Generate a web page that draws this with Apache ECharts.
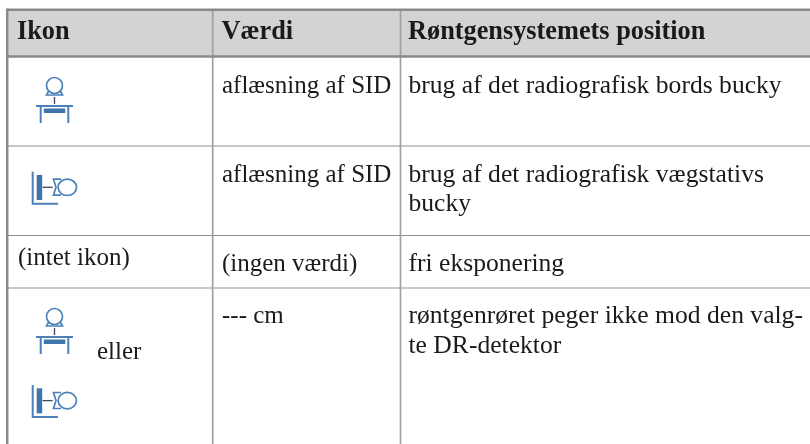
<!DOCTYPE html>
<html><head><meta charset="utf-8">
<style>html,body{margin:0;padding:0;background:#fff}#c{width:810px;height:444px}</style>
<script src="https://cdn.jsdelivr.net/npm/echarts@6/dist/echarts.min.js"></script>
</head><body><div id="c"></div>
<script>
const headers = ["Ikon", "Værdi", "Røntgensystemets position"];
const iconCol = [null, null, "(intet ikon)", "eller"];
const valueCol = ["aflæsning af SID", "aflæsning af SID", "(ingen værdi)", "--- cm"];
const positionCol = [
  ["brug af det radiografisk bords bucky"],
  ["brug af det radiografisk vægstativs", "bucky"],
  ["fri eksponering"],
  ["røntgenrøret peger ikke mod den valg-", "te DR-detektor"]
];

const FONT = '"Liberation Serif", serif';
const SIZE = 25.6, VSIZE = 25, BSIZE = 26.3;
const colX = [7.2, 212.7, 400.5, 810];
const rowY = [9.7, 56.4, 146, 235.5, 288, 444];
const GRID = '#8f8f8f', VGRID = '#a0a0a0', BORDER = '#8a8a8a', BLUE = '#4b80b8', FILL = '#3f74ad', TXT = '#1a1a1a';

function line(x1, y1, x2, y2, stroke, w) {
  return {type:'line', shape:{x1,y1,x2,y2}, style:{stroke, lineWidth:w}, silent:true};
}
function txt(x, base, text, size, bold) {
  return {type:'text', x, y: base - size*0.26, style:{text, x:0, y:0, fill:TXT, font:(bold?'bold ':'')+size+'px '+FONT, textVerticalAlign:'middle'}};
}
function tableIcon(cx, top) {
  const s = {stroke:BLUE, fill:'none', lineWidth:1.7};
  return [
    {type:'circle', shape:{cx, cy:top+8.5, r:8}, style:s},
    {type:'polyline', shape:{points:[[cx-5.5,top+13.5],[cx-8,top+18],[cx+8,top+18],[cx+5.5,top+13.5]]}, style:s},
    {type:'line', shape:{x1:cx, y1:top+20, x2:cx, y2:top+27}, style:{stroke:'#3b4a5c', lineWidth:1.3}},
    {type:'line', shape:{x1:cx-18.5, y1:top+29, x2:cx+18.5, y2:top+29}, style:{stroke:BLUE, lineWidth:2}},
    {type:'line', shape:{x1:cx-13.8, y1:top+29, x2:cx-13.8, y2:top+46}, style:{stroke:BLUE, lineWidth:2}},
    {type:'line', shape:{x1:cx+13.8, y1:top+29, x2:cx+13.8, y2:top+46}, style:{stroke:BLUE, lineWidth:2}},
    {type:'rect', shape:{x:cx-10.7, y:top+31.5, width:21.5, height:4.5}, style:{fill:FILL}}
  ];
}
function wallIcon(left, top) {
  const s = {stroke:BLUE, fill:'none', lineWidth:1.7};
  return [
    {type:'polyline', shape:{points:[[left+.7,top],[left+.7,top+32],[left+26,top+32]]}, style:{stroke:BLUE, fill:'none', lineWidth:2}},
    {type:'rect', shape:{x:left+4.7, y:top+3.3, width:5.5, height:25}, style:{fill:FILL}},
    {type:'line', shape:{x1:left+10.7, y1:top+15.6, x2:left+20.7, y2:top+15.6}, style:{stroke:'#3b4a5c', lineWidth:1.3}},
    {type:'ellipse', shape:{cx:left+35.3, cy:top+15.6, rx:9.2, ry:8.2}, style:s},
    {type:'polyline', shape:{points:[[left+29,top+7.5],[left+21.5,top+7.5],[left+24,top+15.6],[left+21.5,top+23.5],[left+29,top+23.5]]}, style:s}
  ];
}
const el = [];
el.push({type:'rect', shape:{x:colX[0], y:rowY[0], width:810-colX[0], height:rowY[1]-rowY[0]}, style:{fill:'#d3d3d3'}});
for (let i=2;i<5;i++) el.push(line(colX[0], rowY[i], 810, rowY[i], GRID, 1.2));
for (let i=1;i<3;i++) el.push(line(colX[i], rowY[0], colX[i], 444, VGRID, 1.7));
el.push(line(colX[0], rowY[0], 810, rowY[0], BORDER, 2.5));
el.push(line(colX[0], rowY[1], 810, rowY[1], BORDER, 2.5));
el.push(line(colX[0], rowY[0]-1.25, colX[0], 444, BORDER, 2.5));

const headX = [17, 221.5, 408];
headers.forEach((h,i)=>el.push(txt(headX[i], 39.3, h, BSIZE, true)));
el.push(txt(18, 265, iconCol[2], VSIZE));
el.push(txt(97, 359, iconCol[3], VSIZE));
const valBase = [92.7, 181.7, 270.5, 323.3];
valueCol.forEach((v,i)=>el.push(txt(222, valBase[i], v, VSIZE)));
positionCol.forEach((ls,i)=>ls.forEach((l,j)=>el.push(txt(408.5, valBase[i]+j*29.7, l, SIZE))));
el.push(...tableIcon(54.5, 77));
el.push(...wallIcon(32, 171.7));
el.push(...tableIcon(54.5, 308));
el.push(...wallIcon(32, 385));
const chart = echarts.init(document.getElementById('c'), null, {renderer:'canvas'});
chart.setOption({animation:false, graphic:{elements:el}});
</script></body></html>
